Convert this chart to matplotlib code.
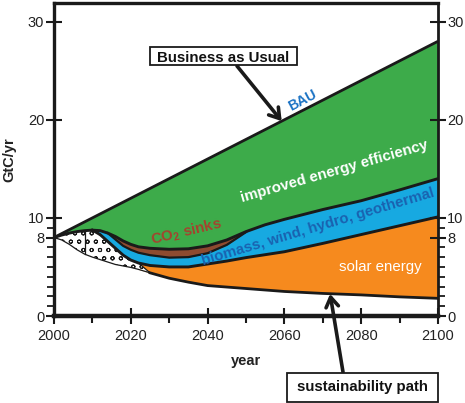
import numpy as np
import matplotlib
matplotlib.use("Agg")
import matplotlib.pyplot as plt
from matplotlib.patches import Rectangle

plt.rcParams['font.family'] = ['Liberation Sans', 'DejaVu Sans']
plt.rcParams['mathtext.fontset'] = 'custom'
plt.rcParams['mathtext.rm'] = 'Liberation Sans:bold'
plt.rcParams['mathtext.it'] = 'Liberation Sans:bold'
plt.rcParams['mathtext.bf'] = 'Liberation Sans:bold'
plt.rcParams['hatch.linewidth'] = 0.7

nan = np.nan
# ---- data (GtC/yr) ----
years = [2000, 2002, 2004, 2006, 2008, 2010, 2012, 2014, 2016, 2018, 2020, 2022,
         2025, 2030, 2035, 2040, 2045, 2050, 2055, 2060, 2070, 2080, 2090, 2100]
bau_years = [2000, 2100]
bau = [8.0, 28.0]
# lower edge of "improved energy efficiency" wedge
efficiency_floor = [8.0, 8.25, 8.45, 8.6, 8.7, 8.75, 8.7, 8.45, 8.1, 7.65, 7.3, 7.05,
                    6.9, 6.8, 6.85, 7.15, 7.75, 8.6, 9.3, 9.85, 10.85, 11.75, 12.85, 14.0]
# lower edge of CO2 sinks band
sinks_floor = [nan, nan, nan, nan, nan, nan, nan, 8.45, 7.8, 7.15, 6.75, 6.45,
               6.2, 5.95, 6.0, 6.4, 7.25, 8.55, nan, nan, nan, nan, nan, nan]
# lower edge of biomass/wind/hydro/geothermal band
renewables_floor = [nan, nan, nan, nan, nan, 8.75, 8.3, 7.6, 6.9, 6.2, 5.7, 5.4,
                    5.15, 5.0, 5.0, 5.3, 5.6, 5.95, 6.25, 6.55, 7.4, 8.3, 9.2, 10.1]
# sustainability path
sustainability = [8.0, 7.75, 7.3, 6.75, 6.3, 6.0, 5.75, 5.5, 5.25, 5.1, 4.95, 4.75,
                  4.4, 3.85, 3.45, 3.1, 2.95, 2.8, 2.65, 2.5, 2.3, 2.15, 1.95, 1.8]
solar_start = 2022
dotted_end = 2025
divider_year = 2008

x_ticks = [2000, 2020, 2040, 2060, 2080, 2100]
x_minor = [2010, 2030, 2050, 2070, 2090]
y_ticks = [0, 8, 10, 20, 30]
y_minor = [1, 2, 3, 4, 5, 6, 7, 9]

GREEN = '#3dab4a'
BLUE = '#17a9e1'
ORANGE = '#f68a1e'
BROWN = '#8e4b30'
INK = '#1a1a1a'

W, H = 465, 403
fig = plt.figure(figsize=(W / 100, H / 100), dpi=100)
ax = fig.add_axes([54 / W, (H - 316) / H, (438 - 54) / W, (316 - 3) / H])

yr = np.array(years, dtype=float)
eff = np.array(efficiency_floor)
snk = np.array(sinks_floor)
ren = np.array(renewables_floor)
sus = np.array(sustainability)

# green wedge
ax.fill(list(bau_years) + list(yr[::-1]), list(bau) + list(eff[::-1]),
        color=GREEN, lw=0, zorder=1)
# blue band
m = ~np.isnan(ren)
ax.fill_between(yr[m], eff[m], ren[m], color=BLUE, lw=0, zorder=2)
# brown band
ms = ~np.isnan(snk)
ax.fill_between(yr[ms], eff[ms], snk[ms], color=BROWN, lw=0, zorder=3)
# orange band
mo = yr >= solar_start
ax.fill_between(yr[mo], ren[mo], sus[mo], color=ORANGE, lw=0, zorder=2)

# dotted region
md = yr <= dotted_end
top = np.where(yr <= 2010, eff, ren)[md]
top[-1] = sus[md][-1]
px_ = list(yr[md]) + list(yr[md][::-1])
py_ = list(top) + list(sus[md][::-1])
ax.fill(px_, py_, facecolor='white', edgecolor=INK, hatch='oo', lw=0.0, zorder=4)
ax.plot(yr[md][-2:], top[-2:], color=INK, lw=0.9, zorder=5)
ax.plot(yr[md], sus[md], color=INK, lw=0.9, zorder=5)
di = years.index(divider_year)
ax.plot([divider_year, divider_year], [sus[di], eff[di]], color=INK, lw=0.9, zorder=5)

# outlines
ax.plot(bau_years, bau, color=INK, lw=2.0, zorder=6, solid_capstyle='butt')
ax.plot(yr, eff, color=INK, lw=2.1, zorder=6)
ax.plot(yr[ms], snk[ms], color=INK, lw=1.6, zorder=6)
ax.plot(yr[m], ren[m], color=INK, lw=2.1, zorder=6)
ax.plot(yr[yr >= dotted_end], sus[yr >= dotted_end], color=INK, lw=2.0, zorder=6)

ax.set_xlim(2000, 2100)
ax.set_ylim(0, 31.9)
ax.set_xticks(x_ticks)
ax.set_xticks(x_minor, minor=True)
ax.set_yticks(y_ticks)
ax.set_yticks(y_minor, minor=True)

for s in ['left', 'top']:
    ax.spines[s].set_linewidth(2.4)
ax.spines['right'].set_linewidth(2.0)
ax.spines['bottom'].set_linewidth(3.2)
for s in ax.spines.values():
    s.set_color(INK)
    s.set_zorder(10)

ax.tick_params(axis='x', which='major', direction='inout', length=11, width=1.5,
               colors=INK, labelsize=10.5, pad=3.5, labelcolor='#222222')
ax.tick_params(axis='x', which='minor', direction='out', length=5, width=1.5, colors=INK)
ax.tick_params(axis='y', which='major', direction='inout', length=11, width=1.5,
               colors=INK, labelsize=10.5, pad=1.5, labelcolor='#222222',
               left=True, right=True, labelleft=True, labelright=False)
ax.tick_params(axis='y', which='minor', direction='out', length=5, width=1.3,
               colors=INK, left=True, right=True)

ax2 = ax.twinx()
ax2.set_ylim(ax.get_ylim())
ax2.set_yticks(y_ticks)
ax2.set_yticks(y_minor, minor=True)
ax2.tick_params(axis='y', which='major', direction='inout', length=11, width=1.5,
                colors=INK, labelsize=10.5, pad=1.0, labelcolor='#222222')
ax2.tick_params(axis='y', which='minor', direction='out', length=5, width=1.3, colors=INK)
for s in ax2.spines.values():
    s.set_visible(False)
ax.tick_params(axis='y', which='both', right=False)

ax.set_ylabel('GtC/yr', fontsize=10.5, fontweight='bold', color='#222222')
ax.yaxis.set_label_coords(-0.097, 0.5)
ax.set_xlabel('year', fontsize=10.5, fontweight='bold', color='#222222')
ax.xaxis.set_label_coords(0.5, -0.12)

# in-chart labels
ax.text(2064.8, 22.0, 'BAU', color='#1a72c4', fontsize=10, fontweight='bold',
        rotation=28, ha='center', va='center', rotation_mode='anchor', zorder=8)
ax.text(2072.9, 14.7, 'improved energy efficiency', color='white', fontsize=10.8,
        fontweight='bold', rotation=16, ha='center', va='center', rotation_mode='anchor', zorder=8)
ax.text(2034.4, 8.6, 'CO$_2$ sinks', color='#a5432e', fontsize=10.8, fontweight='bold',
        rotation=13.5, ha='center', va='center', rotation_mode='anchor', zorder=8)
ax.text(2068.7, 9.1, 'biomass, wind, hydro, geothermal', color='#1a62b0', fontsize=10.8,
        fontweight='bold', rotation=16.5, ha='center', va='center', rotation_mode='anchor', zorder=8)
ax.text(2084.9, 5.0, 'solar energy', color='white', fontsize=10.8,
        ha='center', va='center', zorder=8)

def fx(p):
    return p / W

def fy(p):
    return 1 - p / H

# Business as Usual box
fig.add_artist(Rectangle((fx(150), fy(65)), (297 - 150) / W, (65 - 47) / H,
                         transform=fig.transFigure, facecolor='white', edgecolor=INK, lw=1.3, zorder=20))
fig.text(fx(223.5), fy(61.5), 'Business as Usual', fontsize=10.8, fontweight='bold',
         ha='center', va='baseline', color='#111111', zorder=21)
ax.annotate('', xy=(2059.3, 19.86), xycoords='data', xytext=(fx(237), fy(66)),
            textcoords='figure fraction',
            arrowprops=dict(arrowstyle='->,head_length=0.7,head_width=0.45', lw=2.6,
                            color=INK, shrinkA=0, shrinkB=0), zorder=9)

# sustainability path box
fig.add_artist(Rectangle((fx(287), fy(402)), (438 - 287) / W, (402 - 373) / H,
                         transform=fig.transFigure, facecolor='white', edgecolor=INK, lw=1.3, zorder=20))
fig.text(fx(362), fy(391), 'sustainability path', fontsize=10.8, fontweight='bold',
         ha='center', va='baseline', color='#111111', zorder=21)
ax.annotate('', xy=(2071.9, 2.25), xycoords='data', xytext=(fx(343), fy(372)),
            textcoords='figure fraction', annotation_clip=False,
            arrowprops=dict(arrowstyle='->,head_length=0.7,head_width=0.45', lw=2.6,
                            color=INK, shrinkA=0, shrinkB=0), zorder=9)

fig.savefig('out.png', dpi=100)
